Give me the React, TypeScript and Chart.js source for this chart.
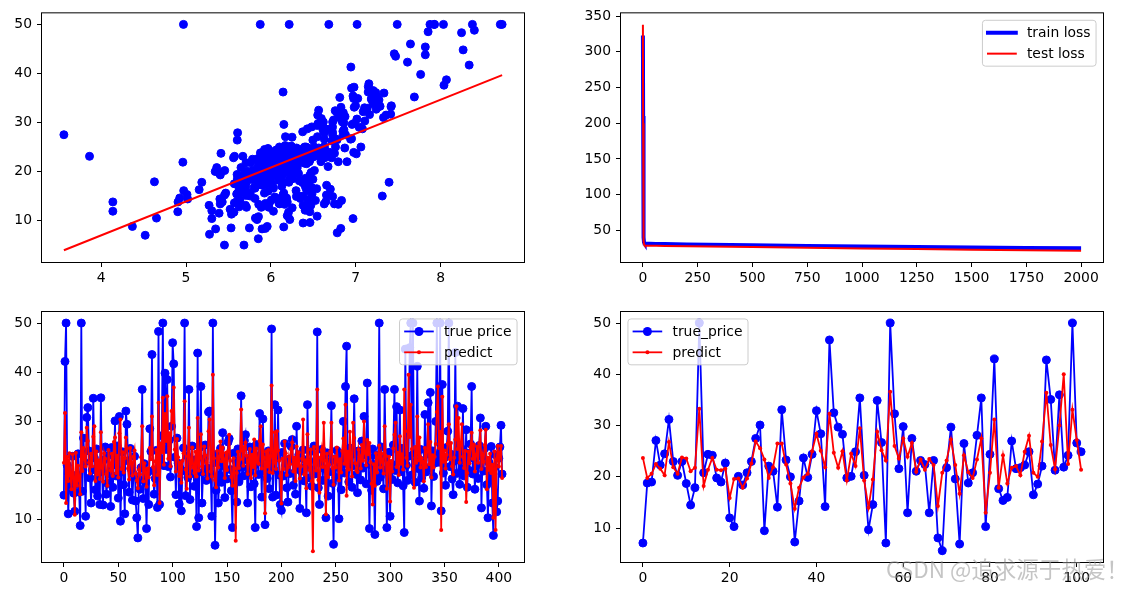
import React, { useEffect, useRef } from "react";
import { Chart, registerables } from "chart.js";
Chart.register(...registerables);

const FONT = "'DejaVu Sans', sans-serif";
const FS = 13.9;
const BLUE = "#0000ff";
const RED = "#ff0000";

// ---------- Panel 1: RM vs price scatter + fitted line ----------
const rmPricePairs: number[][] = [[6.575,24.0],[6.421,21.6],[7.185,34.7],[6.998,33.4],[7.147,36.2],[6.430,28.7],[6.012,22.9],[6.172,27.1],[5.631,16.5],[6.004,18.9],[6.377,15.0],[6.009,18.9],[5.889,21.7],[5.949,20.4],[6.096,18.2],[5.834,19.9],[5.935,23.1],[5.990,17.5],[5.456,20.2],[5.727,18.2],[5.570,13.6],[5.965,19.6],[6.142,15.2],[5.813,14.5],[5.924,15.6],[5.599,13.9],[5.813,16.6],[6.047,14.8],[6.495,18.4],[6.674,21.0],[5.713,12.7],[6.072,14.5],[5.950,13.2],[5.701,13.1],[6.096,13.5],[5.933,18.9],[5.841,20.0],[5.850,21.0],[5.966,24.7],[6.595,30.8],[7.024,34.9],[6.770,26.6],[6.169,25.3],[6.211,24.7],[6.069,21.2],[5.682,19.3],[5.786,20.0],[6.030,16.6],[5.399,14.4],[5.602,19.4],[5.963,19.7],[6.115,20.5],[6.511,25.0],[5.998,23.4],[5.888,18.9],[7.249,35.4],[6.383,24.7],[6.816,31.6],[6.145,23.3],[5.927,19.6],[5.741,18.7],[5.966,16.0],[6.456,22.2],[6.762,25.0],[7.104,33.0],[6.290,23.5],[5.787,19.4],[5.878,22.0],[5.594,17.4],[5.885,20.9],[6.417,24.2],[5.961,21.7],[6.065,22.8],[6.245,23.4],[6.273,24.1],[6.286,21.4],[6.279,20.0],[6.140,20.8],[6.232,21.2],[5.874,20.3],[6.727,28.0],[6.619,23.9],[6.302,24.8],[6.167,22.9],[6.389,23.9],[6.630,26.6],[6.015,22.5],[6.121,22.2],[7.007,23.6],[7.079,28.7],[6.417,22.6],[6.405,22.0],[6.442,22.9],[6.211,25.0],[6.249,20.6],[6.625,28.4],[6.163,21.4],[8.069,38.7],[7.820,43.8],[7.416,33.2],[6.727,27.5],[6.781,26.5],[6.405,18.6],[6.137,19.3],[6.167,20.1],[5.851,19.5],[5.836,19.5],[6.127,20.4],[6.474,19.8],[6.229,19.4],[6.195,21.7],[6.715,22.8],[5.913,18.8],[6.092,18.7],[6.254,18.5],[5.928,18.3],[6.176,21.2],[6.021,19.2],[5.872,20.4],[5.731,19.3],[5.870,22.0],[6.004,20.3],[5.961,20.5],[5.856,17.3],[5.879,18.8],[5.986,21.4],[5.613,15.7],[5.693,16.2],[6.431,18.0],[5.637,14.3],[6.458,19.2],[6.326,19.6],[6.372,23.0],[5.822,18.4],[5.757,15.6],[6.335,18.1],[5.942,17.4],[6.454,17.1],[5.857,13.3],[6.151,17.8],[6.174,14.0],[5.019,14.4],[5.403,13.4],[5.468,15.6],[4.903,11.8],[6.130,13.8],[5.628,15.6],[4.926,14.6],[5.186,17.8],[5.597,15.4],[6.122,21.5],[5.404,19.6],[5.012,15.3],[5.709,19.4],[6.129,17.0],[6.152,15.6],[5.272,13.1],[6.943,41.3],[6.066,24.3],[6.510,23.3],[6.250,27.0],[7.489,50.0],[8.375,50.0],[5.854,22.7],[6.101,25.0],[7.929,50.0],[5.877,23.8],[6.319,23.8],[6.402,22.3],[5.875,17.4],[5.880,19.1],[5.572,23.1],[6.416,23.6],[5.859,22.6],[6.546,29.4],[6.020,23.2],[6.315,24.6],[6.860,29.9],[6.980,37.2],[7.765,39.8],[6.144,36.2],[7.155,37.9],[6.563,32.5],[5.604,26.4],[6.153,29.6],[6.782,32.0],[6.556,29.8],[7.185,34.9],[6.951,37.0],[6.739,30.5],[7.178,36.4],[6.800,31.1],[6.604,29.1],[7.875,50.0],[7.287,33.3],[7.107,30.3],[7.274,34.6],[6.975,34.9],[7.135,32.9],[6.162,24.1],[7.610,42.3],[7.853,48.5],[8.034,50.0],[5.891,22.6],[6.326,24.4],[5.783,22.5],[6.064,24.4],[5.344,20.0],[5.960,21.7],[5.404,19.3],[5.807,22.4],[6.375,28.1],[5.412,23.7],[6.182,25.0],[5.888,23.3],[6.642,28.7],[5.951,21.5],[6.373,23.0],[6.951,26.7],[6.164,21.7],[6.879,27.5],[6.618,30.1],[8.266,44.8],[8.725,50.0],[8.040,37.6],[7.163,31.6],[6.552,31.5],[5.981,24.3],[7.412,31.7],[8.337,41.7],[8.247,48.3],[6.726,29.0],[6.086,24.0],[6.631,25.1],[7.358,31.5],[6.481,23.7],[6.606,23.3],[6.897,22.0],[6.095,20.1],[6.358,22.2],[6.393,23.7],[5.593,17.6],[5.605,18.5],[6.108,24.3],[6.226,20.5],[6.433,24.5],[6.718,26.2],[6.487,24.4],[6.438,24.8],[6.957,29.6],[6.108,21.9],[5.876,20.9],[7.454,44.0],[8.704,50.0],[7.333,36.0],[6.842,30.1],[7.203,33.8],[8.398,48.8],[7.327,31.0],[7.206,36.5],[5.560,22.8],[7.014,30.7],[7.470,43.5],[5.920,20.7],[5.856,21.1],[6.240,25.2],[6.538,24.4],[7.691,35.2],[6.758,32.4],[6.854,32.0],[7.267,33.2],[6.826,33.1],[6.482,29.1],[6.812,35.1],[7.820,45.4],[6.968,35.4],[7.645,46.0],[7.923,50.0],[7.088,32.2],[6.453,22.0],[6.230,20.1],[6.209,23.2],[6.315,22.3],[6.565,24.8],[6.861,28.5],[7.148,37.3],[6.630,27.9],[6.127,23.9],[6.009,21.7],[6.678,28.6],[6.549,27.1],[5.790,20.3],[6.345,22.5],[7.041,29.0],[6.871,24.8],[6.590,22.0],[6.495,26.4],[6.982,33.1],[7.236,36.1],[6.616,28.4],[7.420,33.4],[6.849,28.2],[6.635,22.8],[5.972,20.3],[4.973,16.1],[6.122,22.1],[6.023,19.4],[6.266,21.6],[6.567,23.8],[5.705,16.2],[5.914,17.8],[5.782,19.8],[6.382,23.1],[6.113,21.0],[6.426,23.8],[6.376,23.1],[6.041,20.4],[5.708,18.5],[6.415,25.0],[6.431,24.6],[6.312,23.0],[6.083,22.2],[5.868,19.3],[6.333,22.6],[6.144,19.8],[5.706,17.1],[6.031,19.4],[6.316,22.2],[6.310,20.7],[6.037,21.1],[5.869,19.5],[5.895,18.5],[6.059,20.6],[5.985,19.0],[5.968,18.7],[7.241,32.7],[6.540,16.5],[6.696,23.9],[6.874,31.2],[6.014,17.5],[5.898,17.2],[6.516,23.1],[6.635,24.5],[6.939,26.6],[6.490,22.9],[6.579,24.1],[5.884,18.6],[6.728,30.1],[5.663,18.2],[5.936,20.6],[6.212,17.8],[6.395,21.7],[6.127,22.7],[6.112,22.6],[6.398,25.0],[6.251,19.9],[5.362,20.8],[5.803,16.8],[3.561,27.5],[4.963,21.9],[3.863,23.1],[4.970,50.0],[6.683,50.0],[7.016,50.0],[6.216,50.0],[5.875,50.0],[4.906,13.8],[4.138,13.8],[7.313,15.0],[6.649,13.9],[6.794,13.3],[6.380,13.1],[6.223,10.2],[6.968,10.4],[6.545,10.9],[5.536,11.3],[5.520,12.3],[4.368,8.8],[5.277,7.2],[4.652,10.5],[5.390,11.5],[5.713,15.1],[6.051,23.2],[6.193,13.8],[5.887,12.7],[6.471,13.1],[6.405,12.5],[5.747,8.5],[5.453,5.0],[5.852,6.3],[6.404,12.1],[5.349,8.3],[5.531,8.5],[5.683,5.0],[4.138,11.9],[5.608,27.9],[5.617,17.2],[6.852,27.5],[5.757,15.0],[6.657,17.2],[4.628,17.9],[5.155,16.3],[4.519,7.0],[6.782,7.5],[5.304,10.4],[5.957,8.8],[6.824,8.4],[6.411,16.7],[6.006,14.2],[5.648,20.8],[6.103,13.4],[5.565,11.7],[5.896,8.3],[5.837,10.2],[6.202,10.9],[6.193,11.0],[6.380,9.5],[6.348,14.5],[6.833,14.1],[6.425,16.1],[6.436,14.3],[6.208,11.7],[6.629,13.4],[6.461,9.6],[6.152,8.7],[5.935,8.4],[5.627,12.8],[5.818,10.5],[6.406,17.1],[6.219,18.4],[6.485,15.4],[5.854,10.8],[6.459,11.8],[6.341,14.9],[6.251,12.6],[6.185,14.1],[6.417,13.0],[6.749,13.4],[6.655,15.2],[6.297,16.1],[7.393,17.8],[6.728,14.9],[6.525,14.1],[5.976,12.7],[5.936,13.5],[6.301,14.9],[6.081,20.0],[6.701,16.4],[6.376,17.7],[6.317,19.5],[6.513,20.2],[6.209,21.4],[5.759,19.9],[5.952,19.0],[6.003,19.1],[5.926,19.1],[5.713,20.1],[6.167,19.9],[6.229,19.6],[6.437,23.2],[6.980,29.8],[5.427,13.8],[6.162,13.3],[6.484,16.7],[5.304,12.0],[6.185,14.6],[6.229,21.4],[6.242,23.0],[6.750,23.7],[7.061,25.0],[5.762,21.8],[5.871,20.6],[6.312,21.2],[6.114,19.1],[5.905,20.6],[5.454,15.2],[5.983,13.6],[5.983,20.1],[5.707,21.8],[5.926,24.5],[5.670,23.1],[5.390,19.7],[5.794,18.3],[6.019,21.2],[5.569,17.5],[6.027,16.8],[6.593,22.4],[6.120,20.6],[6.976,23.9],[6.794,22.0],[6.030,11.9]];
const fitX = [3.561, 8.725];
const fitY = [3.95, 39.65];
const p1XTicks = [4, 5, 6, 7, 8];
const p1YTicks = [10, 20, 30, 40, 50];

// ---------- Panel 2: loss curves ----------
const lossEpochs = [0, 1, 2, 3, 4, 5, 8, 15, 30, 60, 100, 200, 300, 500, 750, 1000, 1250, 1500, 1750, 2000];
const trainLoss = [323, 210, 110, 60, 40, 33, 31.5, 31.2, 31, 30.8, 30.6, 30.1, 29.7, 28.9, 28, 27.2, 26.5, 25.8, 25.2, 24.6];
const testLoss = [338, 200, 95, 50, 35, 30, 28.6, 28.4, 28.3, 28.1, 28, 27.6, 27.2, 26.4, 25.4, 24.5, 23.6, 22.8, 22.1, 21.4];
const p2XTicks = [0, 250, 500, 750, 1000, 1250, 1500, 1750, 2000];
const p2YTicks = [50, 100, 150, 200, 250, 300, 350];

// ---------- Panel 3: train set true price vs predict ----------
const trainTrue = [
15.0,42.2,50,21.1,11.2,18.9,16.4,17.8,22.9,15.4,
11.7,17.2,19.1,23.4,15.6,8.8,50,15.8,26.6,21.7,
10.7,30.8,32.8,24.0,18.5,13.4,20.1,34.7,22.6,16.1,
24.4,14.8,20.4,13.1,34.8,19.8,13.0,22.2,24.8,15.2,
17.4,23.1,19.3,12.7,24.7,16.6,21.2,30.1,18.9,25.0,
14.4,31.0,9.7,19.8,23.8,17.1,11.2,32.1,29.4,22.0,
15.6,24.5,20.3,14.0,19.3,22.9,13.8,10.4,6.3,18.2,
16.2,20.6,36.5,14.3,21.4,17.5,8.2,19.6,13.1,28.5,
23.9,43.6,20.0,15.2,18.4,24.1,12.5,48.3,13.1,22.5,
27.1,50,21.0,39.8,24.3,38.5,20.8,26.2,18.7,29.0,
46.0,41.7,22.7,15.1,26.6,21.5,13.2,20.4,11.8,19.9,
24.6,50,14.9,23.0,18.6,36.5,14.1,21.9,25.0,19.4,
16.8,22.2,8.6,43.9,10.4,24.7,37.1,13.4,19.6,22.4,
25.2,18.0,20.5,31.9,32.1,19.3,10.7,50,21.6,4.8,
16.0,23.3,13.4,19.1,24.5,17.6,27.7,21.0,14.5,22.9,
18.3,25.8,26.5,20.2,15.9,8.4,23.5,19.0,22.0,13.6,
24.4,17.7,21.3,35.2,20.6,18.9,26.1,27.3,22.2,13.4,
19.5,24.8,16.7,23.6,20.9,17.3,8.4,25.3,21.7,19.2,
31.6,23.1,14.6,30.5,20.0,9.0,22.8,18.4,24.0,16.3,
21.4,48.8,14.6,20.2,33.4,15.0,22.6,32.3,19.1,13.1,
11.9,23.7,18.9,25.5,21.1,16.5,13.6,22.3,19.4,24.9,
26.3,17.0,21.8,15.2,29.0,20.4,23.2,12.3,19.9,22.5,
24.2,17.9,20.6,11.4,33.4,21.7,18.5,23.9,16.8,20.1,
25.0,19.3,22.1,48.2,16.5,13.1,21.5,24.3,18.0,22.7,
20.3,10.4,23.6,14.8,19.7,21.9,33.2,17.4,5.0,22.4,
18.6,24.1,20.7,10.2,23.0,16.1,21.2,30.0,19.5,37.1,
45.3,22.2,17.7,24.6,20.9,16.6,23.4,34.6,21.0,19.2,
15.5,24.0,22.4,18.1,26.0,20.5,31.0,23.3,17.3,37.8,
22.9,8.2,21.2,16.0,24.4,19.0,7.0,23.1,17.8,21.7,
50,18.7,24.8,20.2,16.3,36.5,22.6,8.4,19.6,23.7,
10.7,21.4,18.2,25.2,36.5,20.0,33.0,17.5,23.8,32.3,
19.8,24.5,16.9,7.4,44.7,21.1,18.0,22.9,45.0,50,
19.1,50,23.5,17.6,21.8,41.2,20.4,13.8,24.3,18.5,
22.0,16.4,31.4,19.7,23.4,33.8,20.6,35.9,12.8,24.0,
18.8,21.5,30.0,50,23.1,21.7,50,11.8,37.5,19.5,
22.6,17.0,24.7,28.0,50,20.8,23.3,18.3,15.1,21.9,
44.0,19.4,33.1,22.8,17.2,24.6,20.3,32.6,18.9,22.1,
28.3,16.6,23.5,20.0,25.4,37.1,19.3,22.5,16.2,24.2,
21.0,18.4,25.1,30.7,12.4,22.8,19.9,24.5,29.0,17.1,
10.4,21.6,18.0,24.9,13.4,6.8,20.7,23.2,11.6,13.8,
22.5,24.8,29.2,19.3];
const trainPred = [
21.6,31.7,13.4,22.8,17.9,23.5,19.0,16.2,23.3,18.5,
11.0,23.6,16.9,21.0,18.1,15.2,27.8,19.9,24.6,22.3,
20.8,28.7,26.0,21.6,19.4,23.4,20.9,26.9,29.0,17.9,
23.9,19.2,22.1,18.3,27.8,20.6,17.7,23.5,22.4,19.3,
16.9,24.2,21.1,20.0,23.4,18.9,25.8,26.7,19.5,23.0,
18.6,27.6,30.4,20.3,23.7,19.6,22.5,26.7,24.5,20.4,
18.2,24.6,21.6,19.0,22.8,24.1,19.4,18.0,16.4,20.1,
19.2,22.7,29.0,17.8,21.5,19.7,16.7,20.4,18.6,24.6,
22.3,31.0,20.7,17.0,21.9,24.2,19.1,33.8,13.4,25.5,
23.7,34.8,21.2,31.5,26.0,35.1,22.4,27.6,20.9,32.1,
29.8,36.9,24.3,19.8,26.4,22.7,18.9,21.6,17.5,22.0,
23.5,34.1,20.2,16.3,22.9,28.7,18.8,21.4,24.7,20.6,
19.5,23.8,18.8,30.7,20.0,22.6,27.4,20.8,19.3,24.9,
23.1,21.6,18.4,28.0,30.4,19.8,18.8,39.5,22.5,18.1,
16.6,24.0,20.6,22.8,25.9,21.9,24.7,22.3,18.5,23.6,
20.1,24.0,27.3,22.0,18.7,16.9,22.5,20.4,5.7,19.5,
23.8,20.5,22.3,32.4,24.1,21.0,24.8,25.7,23.0,19.3,
22.1,24.4,18.5,23.2,20.7,26.3,19.0,24.5,21.8,21.4,
26.0,29.0,20.4,25.3,22.6,11.3,23.9,20.8,24.2,19.7,
22.9,37.3,19.5,21.6,27.8,20.3,28.0,24.1,22.0,18.9,
13.3,22.4,20.3,25.9,23.5,19.1,20.6,22.8,21.3,24.4,
25.7,19.8,22.6,17.9,24.9,21.0,23.7,18.4,20.8,22.4,
30.4,19.2,22.1,16.4,27.4,21.5,20.1,24.3,17.9,3.6,
24.8,22.3,20.0,36.5,18.1,15.5,22.6,24.2,20.7,29.7,
22.0,11.1,23.4,18.7,21.2,23.9,29.7,20.5,17.1,22.8,
20.6,24.7,21.9,18.0,22.3,19.6,24.0,26.5,21.4,33.4,
14.9,23.8,20.2,27.9,22.6,18.8,29.7,26.6,21.5,20.0,
19.7,24.3,22.9,20.4,25.2,22.0,30.0,23.6,21.1,26.2,
23.3,25.6,21.7,17.3,13.1,21.3,16.9,23.5,19.6,22.7,
25.1,20.6,23.4,21.8,19.4,29.0,23.0,16.3,21.5,22.8,
13.7,21.9,19.8,24.5,27.3,29.7,20.7,23.6,19.1,27.0,
21.4,23.3,20.2,36.5,28.0,22.6,21.0,39.5,26.8,33.4,
24.4,20.3,16.5,24.8,21.6,31.0,22.1,26.7,20.6,22.5,
21.8,17.8,24.6,20.7,23.9,29.4,21.3,25.8,18.6,23.1,
20.6,22.8,25.4,31.9,37.1,24.6,27.9,7.9,35.0,21.8,
24.1,20.4,23.2,25.5,29.4,22.3,25.6,20.9,19.2,22.6,
26.3,33.1,24.4,30.7,21.6,25.2,29.4,22.8,20.5,24.0,
13.6,19.5,23.8,21.5,24.7,27.7,22.4,25.3,19.8,23.2,
24.9,21.6,25.6,28.2,20.3,23.1,21.8,25.2,28.3,16.2,
22.6,20.1,23.4,19.5,21.2,10.4,23.9,7.9,22.3,25.0,
20.8,23.6,25.0,18.5];
const p3XTicks = [0, 50, 100, 150, 200, 250, 300, 350, 400];
const p3YTicks = [10, 20, 30, 40, 50];

// ---------- Panel 4: test set true price vs predict ----------
const testTrue = [
7.1,18.8,19.0,27.1,22.3,24.5,31.2,23.0,20.3,23.0,
18.7,14.5,17.9,50,20.8,24.4,24.2,19.8,19.0,22.7,
12.0,10.3,20.1,18.4,20.8,23.0,27.5,30.1,9.5,22.1,
21.1,14.1,33.1,23.3,20.0,7.3,15.3,23.7,19.9,24.4,
32.9,28.4,14.2,46.7,32.5,29.7,28.3,19.8,20.1,24.9,
35.4,20.3,9.7,14.6,34.9,26.7,7.1,50,32.3,21.6,
29.8,13.0,27.5,21.1,23.2,22.4,13.0,23.2,8.1,5.6,
21.8,29.7,19.6,6.9,26.5,18.8,20.8,28.1,35.4,10.3,
24.4,43.0,17.7,15.4,16.0,27.0,21.6,21.8,22.3,24.9,
16.5,18.6,22.1,42.8,35.1,21.3,36.0,21.9,24.2,50,
26.6,24.9];
const testPred = [
23.7,19.8,20.6,22.5,21.6,20.3,26.8,21.9,20.6,23.8,
23.6,21.1,21.8,33.3,18.2,21.4,23.7,21.4,21.3,21.6,
15.9,19.6,19.7,17.9,19.7,22.6,26.9,25.6,23.4,19.8,
21.9,26.5,26.5,22.4,18.7,13.8,17.9,19.9,20.6,25.0,
28.4,25.1,21.9,32.3,24.7,21.8,25.0,19.3,24.5,22.1,
29.5,19.3,14.0,19.5,28.8,25.2,23.2,36.6,26.0,23.6,
27.5,23.9,26.6,21.0,23.4,21.4,23.5,22.3,14.3,20.8,
23.2,27.3,22.3,16.7,24.2,20.9,19.8,23.4,27.5,13.0,
20.8,31.2,17.9,24.2,18.7,21.8,22.1,20.3,24.9,28.0,
20.8,20.0,26.9,36.4,26.2,21.5,30.0,40.0,22.5,33.1,
27.2,21.4];
const p4XTicks = [0, 20, 40, 60, 80, 100];
const p4YTicks = [10, 20, 30, 40, 50];

// ---------- helpers ----------
type LegendItem = { label: string; color: string; lineWidth: number; markerRadius: number };

function legendPlugin(items: LegendItem[], corner: "tr" | "tl") {
  return {
    id: "mplLegend",
    afterDraw(chart: any) {
      const ctx: CanvasRenderingContext2D = chart.ctx;
      const a = chart.chartArea;
      ctx.save();
      ctx.font = `${FS}px ${FONT}`;
      const pad = 0.4 * FS, hl = 2 * FS, htp = 0.8 * FS, ls = 0.5 * FS, bap = 0.5 * FS;
      const tw = Math.max(...items.map((i) => ctx.measureText(i.label).width));
      const w = pad * 2 + hl + htp + tw;
      const h = pad * 2 + items.length * FS + (items.length - 1) * ls;
      const x = corner === "tr" ? a.right - bap - w : a.left + bap;
      const y = a.top + bap;
      const r = 3;
      ctx.beginPath();
      ctx.moveTo(x + r, y);
      ctx.lineTo(x + w - r, y);
      ctx.arcTo(x + w, y, x + w, y + r, r);
      ctx.lineTo(x + w, y + h - r);
      ctx.arcTo(x + w, y + h, x + w - r, y + h, r);
      ctx.lineTo(x + r, y + h);
      ctx.arcTo(x, y + h, x, y + h - r, r);
      ctx.lineTo(x, y + r);
      ctx.arcTo(x, y, x + r, y, r);
      ctx.closePath();
      ctx.fillStyle = "rgba(255,255,255,0.8)";
      ctx.fill();
      ctx.strokeStyle = "#cccccc";
      ctx.lineWidth = 1;
      ctx.stroke();
      items.forEach((it, k) => {
        const cy = y + pad + FS / 2 + k * (FS + ls);
        const x0 = x + pad;
        ctx.beginPath();
        ctx.strokeStyle = it.color;
        ctx.lineWidth = it.lineWidth;
        ctx.lineCap = "square";
        ctx.moveTo(x0, cy);
        ctx.lineTo(x0 + hl, cy);
        ctx.stroke();
        if (it.markerRadius > 0) {
          ctx.beginPath();
          ctx.fillStyle = it.color;
          ctx.arc(x0 + hl / 2, cy, it.markerRadius, 0, Math.PI * 2);
          ctx.fill();
        }
        ctx.fillStyle = "#000";
        ctx.textBaseline = "middle";
        ctx.textAlign = "left";
        ctx.fillText(it.label, x0 + hl + htp, cy + 1);
      });
      ctx.restore();
    },
  };
}

const framePlugin = {
  id: "frame",
  afterDatasetsDraw(chart: any) {
    const { ctx, chartArea: a } = chart;
    ctx.save();
    ctx.strokeStyle = "#000";
    ctx.lineWidth = 1;
    ctx.strokeRect(a.left - 0.5, a.top - 0.5, a.right - a.left + 1, a.bottom - a.top + 1);
    ctx.restore();
  },
};

function axis(min: number, max: number, ticks: number[], size: number, isY: boolean) {
  return {
    type: "linear",
    min,
    max,
    afterBuildTicks: (s: any) => {
      s.ticks = ticks.map((v) => ({ value: v }));
    },
    afterFit: (s: any) => {
      if (isY) s.width = size;
      else s.height = size;
    },
    grid: {
      display: true,
      drawOnChartArea: false,
      drawTicks: true,
      tickLength: 5,
      color: "#000",
      tickColor: "#000",
      lineWidth: 1,
    },
    border: { display: false },
    ticks: {
      color: "#000",
      font: { family: FONT, size: FS },
      padding: isY ? 5 : 3,
      autoSkip: false,
      maxRotation: 0,
      minRotation: 0,
      callback: (v: any) => String(v),
    },
  };
}

function baseOptions(pad: any, scales: any) {
  return {
    responsive: false,
    animation: false,
    events: [],
    layout: { padding: pad },
    plugins: { legend: { display: false }, tooltip: { enabled: false } },
    scales,
  };
}

function Panel({ left, top, width, height, make }: any) {
  const ref = useRef<HTMLCanvasElement>(null);
  useEffect(() => {
    const chart = new Chart(ref.current as HTMLCanvasElement, make());
    return () => chart.destroy();
  }, []);
  return (
    <canvas
      ref={ref}
      width={width}
      height={height}
      style={{ position: "absolute", left, top, width, height }}
    />
  );
}

const makeP1 = (): any => ({
  type: "scatter",
  data: {
    datasets: [
      {
        data: fitX.map((x, i) => ({ x, y: fitY[i] })),
        showLine: true,
        borderColor: RED,
        borderWidth: 2,
        pointRadius: 0,
        order: 0,
      },
      {
        data: rmPricePairs.map((p) => ({ x: p[0], y: p[1] })),
        backgroundColor: BLUE,
        borderColor: BLUE,
        pointRadius: 4,
        pointBorderWidth: 1,
        order: 1,
      },
    ],
  },
  options: baseOptions({ left: 0, right: 16, top: 12, bottom: 0 }, {
    x: axis(3.303, 8.983, p1XTicks, 28, false),
    y: axis(1.55, 52.25, p1YTicks, 42, true),
  }),
  plugins: [framePlugin],
});

const makeP2 = (): any => ({
  type: "line",
  data: {
    datasets: [
      {
        data: lossEpochs.map((x, i) => ({ x, y: testLoss[i] })),
        borderColor: RED,
        borderWidth: 2,
        pointRadius: 0,
        order: 0,
      },
      {
        data: lossEpochs.map((x, i) => ({ x, y: trainLoss[i] })),
        borderColor: BLUE,
        borderWidth: 4,
        pointRadius: 0,
        order: 1,
      },
    ],
  },
  options: baseOptions({ left: 0, right: 23, top: 12, bottom: 0 }, {
    x: axis(-100, 2100, p2XTicks, 28, false),
    y: axis(5.5, 354, p2YTicks, 51, true),
  }),
  plugins: [
    framePlugin,
    legendPlugin(
      [
        { label: "train loss", color: BLUE, lineWidth: 4, markerRadius: 0 },
        { label: "test loss", color: RED, lineWidth: 2, markerRadius: 0 },
      ],
      "tr"
    ),
  ],
});

function seriesPair(trueVals: number[], predVals: number[]) {
  return [
    {
      data: predVals.map((y, i) => ({ x: i, y })),
      borderColor: RED,
      backgroundColor: RED,
      borderWidth: 1.8,
      pointRadius: 2,
      pointBorderWidth: 0,
      order: 0,
    },
    {
      data: trueVals.map((y, i) => ({ x: i, y })),
      borderColor: BLUE,
      backgroundColor: BLUE,
      borderWidth: 1.8,
      pointRadius: 4,
      pointBorderWidth: 1,
      order: 1,
    },
  ];
}

const makeP3 = (): any => ({
  type: "line",
  data: { datasets: seriesPair(trainTrue, trainPred) },
  options: baseOptions({ left: 0, right: 16, top: 17, bottom: 0 }, {
    x: axis(-20.15, 423.15, p3XTicks, 27, false),
    y: axis(1.4, 52.25, p3YTicks, 42, true),
  }),
  plugins: [
    framePlugin,
    legendPlugin(
      [
        { label: "true price", color: BLUE, lineWidth: 1.8, markerRadius: 4.5 },
        { label: "predict", color: RED, lineWidth: 1.8, markerRadius: 2 },
      ],
      "tr"
    ),
  ],
});

const makeP4 = (): any => ({
  type: "line",
  data: { datasets: seriesPair(testTrue, testPred) },
  options: baseOptions({ left: 0, right: 23, top: 17, bottom: 0 }, {
    x: axis(-5.05, 106.05, p4XTicks, 27, false),
    y: axis(3.4, 52.15, p4YTicks, 51, true),
  }),
  plugins: [
    framePlugin,
    legendPlugin(
      [
        { label: "true_price", color: BLUE, lineWidth: 1.8, markerRadius: 4.5 },
        { label: "predict", color: RED, lineWidth: 1.8, markerRadius: 2 },
      ],
      "tl"
    ),
  ],
});

export default function App() {
  return (
    <div
      style={{
        position: "fixed",
        left: 0,
        top: 0,
        width: 1126,
        height: 589,
        background: "#ffffff",
        overflow: "hidden",
      }}
    >
      <Panel left={0} top={0} width={540} height={290} make={makeP1} />
      <Panel left={570} top={0} width={556} height={290} make={makeP2} />
      <Panel left={0} top={295} width={540} height={294} make={makeP3} />
      <Panel left={570} top={295} width={556} height={294} make={makeP4} />
      <div
        style={{
          position: "absolute",
          left: 886,
          top: 554,
          fontFamily: "'Noto Sans CJK SC', 'DejaVu Sans', sans-serif",
          fontSize: 22.5,
          lineHeight: "28px",
          color: "rgba(150,150,150,0.55)",
          whiteSpace: "nowrap",
          pointerEvents: "none",
        }}
      >
        CSDN @追求源于热爱！
      </div>
    </div>
  );
}
